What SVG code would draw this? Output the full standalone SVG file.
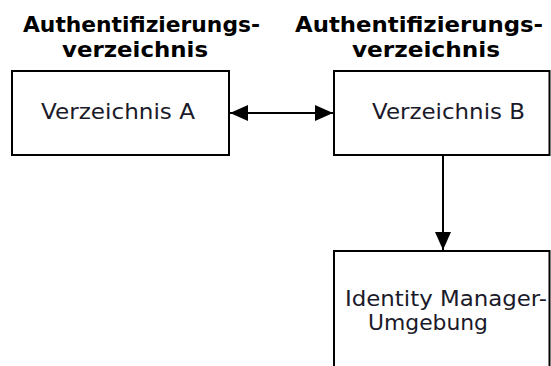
<svg xmlns="http://www.w3.org/2000/svg" width="551" height="366" viewBox="0 0 551 366">
<style>
.box{fill:#fff;stroke:#000;stroke-width:2}
.title{font-family:"DejaVu Sans",Verdana,sans-serif;font-weight:bold;font-size:21px;fill:#000}
.lbl{font-family:"DejaVu Sans",Verdana,sans-serif;font-size:22px;fill:#1a1a2a}
.conn{stroke:#000;stroke-width:2;fill:none}
</style>
<defs>
<marker id="ah" viewBox="0 0 18 16" refX="18" refY="8" markerWidth="18" markerHeight="16" markerUnits="userSpaceOnUse" orient="auto-start-reverse">
<path d="M0,0 L18,8 L0,16 Z" fill="#000"/>
</marker>
</defs>
<rect width="551" height="366" fill="#fff"/>
<g id="titleA">
<text class="title" x="23" y="32" textLength="237" lengthAdjust="spacingAndGlyphs">Authentifizierungs-</text>
<text class="title" x="62" y="57" textLength="146" lengthAdjust="spacingAndGlyphs">verzeichnis</text>
</g>
<g id="titleB">
<text class="title" x="295" y="32" textLength="248" lengthAdjust="spacingAndGlyphs">Authentifizierungs-</text>
<text class="title" x="352" y="57" textLength="148" lengthAdjust="spacingAndGlyphs">verzeichnis</text>
</g>
<g id="nodeA">
<rect class="box" x="12" y="71" width="217" height="84"/>
<text class="lbl" x="41" y="119" textLength="154" lengthAdjust="spacingAndGlyphs">Verzeichnis A</text>
</g>
<g id="nodeB">
<rect class="box" x="334" y="71" width="215.5" height="84"/>
<text class="lbl" x="372" y="119" textLength="153" lengthAdjust="spacingAndGlyphs">Verzeichnis B</text>
</g>
<g id="nodeC">
<rect class="box" x="334" y="251" width="215.5" height="130"/>
<text class="lbl" x="345" y="306" textLength="202" lengthAdjust="spacingAndGlyphs">Identity Manager-</text>
<text class="lbl" x="368" y="330" textLength="120" lengthAdjust="spacingAndGlyphs">Umgebung</text>
</g>
<g id="connectors">
<line class="conn" x1="230" y1="113" x2="333" y2="113" marker-start="url(#ah)" marker-end="url(#ah)"/>
<line class="conn" x1="443" y1="155" x2="443" y2="250" marker-end="url(#ah)"/>
</g>
</svg>
